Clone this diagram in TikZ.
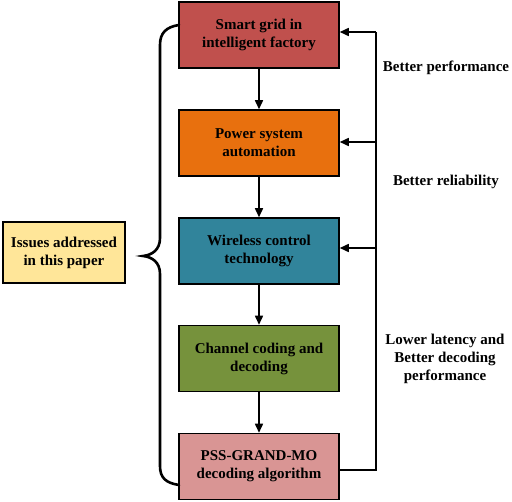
\documentclass[tikz,border=0pt]{standalone}
\usepackage{fontspec}
\setmainfont{Liberation Serif}
\usetikzlibrary{arrows.meta}
\definecolor{cRed}{HTML}{C0504D}
\definecolor{cOrange}{HTML}{E8700E}
\definecolor{cTeal}{HTML}{31849B}
\definecolor{cGreen}{HTML}{76923C}
\definecolor{cPink}{HTML}{D99594}
\definecolor{cYellow}{HTML}{FFE699}
\tikzset{
  box/.style={draw=black, line width=1.5pt, minimum width=160pt, minimum height=66pt, inner sep=0pt, align=center, font=\fontsize{15}{18}\selectfont\bfseries},
  lbl/.style={align=center, inner sep=0pt, font=\fontsize{15}{18}\selectfont\bfseries},
  arr/.style={line width=1.5pt, -{Triangle[length=9pt,width=8pt]}},
  ln/.style={line width=1.5pt},
  brace/.style={line width=2.6pt, line cap=round}
}
\begin{document}
\begin{tikzpicture}[x=1pt,y=-1pt]
\useasboundingbox (0,0) rectangle (512,502);
\node[box, fill=cRed] (b1) at (259,35) {Smart grid in\\intelligent factory};
\node[box, fill=cOrange] (b2) at (259,143) {Power system\\automation};
\node[box, fill=cTeal] (b3) at (259,251) {Wireless control\\technology};
\node[box, fill=cGreen] (b4) at (259,358.5) {Channel coding and\\decoding};
\node[box, fill=cPink] (b5) at (259,466.5) {PSS-GRAND-MO\\decoding algorithm};
\node[box, fill=cYellow, minimum width=122pt, minimum height=61pt] (iss) at (64,252.5) {Issues addressed\\in this paper};
\draw[arr] (b1) -- (b2);
\draw[arr] (b2) -- (b3);
\draw[arr] (b3) -- (b4);
\draw[arr] (b4) -- (b5);
\coordinate (r5) at (376,470);
\coordinate (r1) at (376,32);
\coordinate (r2) at (376,142);
\coordinate (r3) at (376,248);
\draw[ln] (r5 -| b5.east) -- (r5) -- (r1);
\draw[arr] (r1) -- (r1 -| b1.east);
\draw[arr] (r2) -- (r2 -| b2.east);
\draw[arr] (r3) -- (r3 -| b3.east);
\node[lbl] (l1) at (446,68) {Better performance};
\node[lbl] (l2) at (446,182) {Better reliability};
\node[lbl] (l3) at (445,359) {Lower latency and\\Better decoding\\performance};
\draw[brace] (179,25) .. controls (166,27) and (160,33) .. (160,45) -- (160,238) .. controls (160,250) and (152,255) .. (143,256) .. controls (152,257) and (160,262) .. (160,274) -- (160,466) .. controls (160,478) and (166,483) .. (179,485);
\end{tikzpicture}
\end{document}
